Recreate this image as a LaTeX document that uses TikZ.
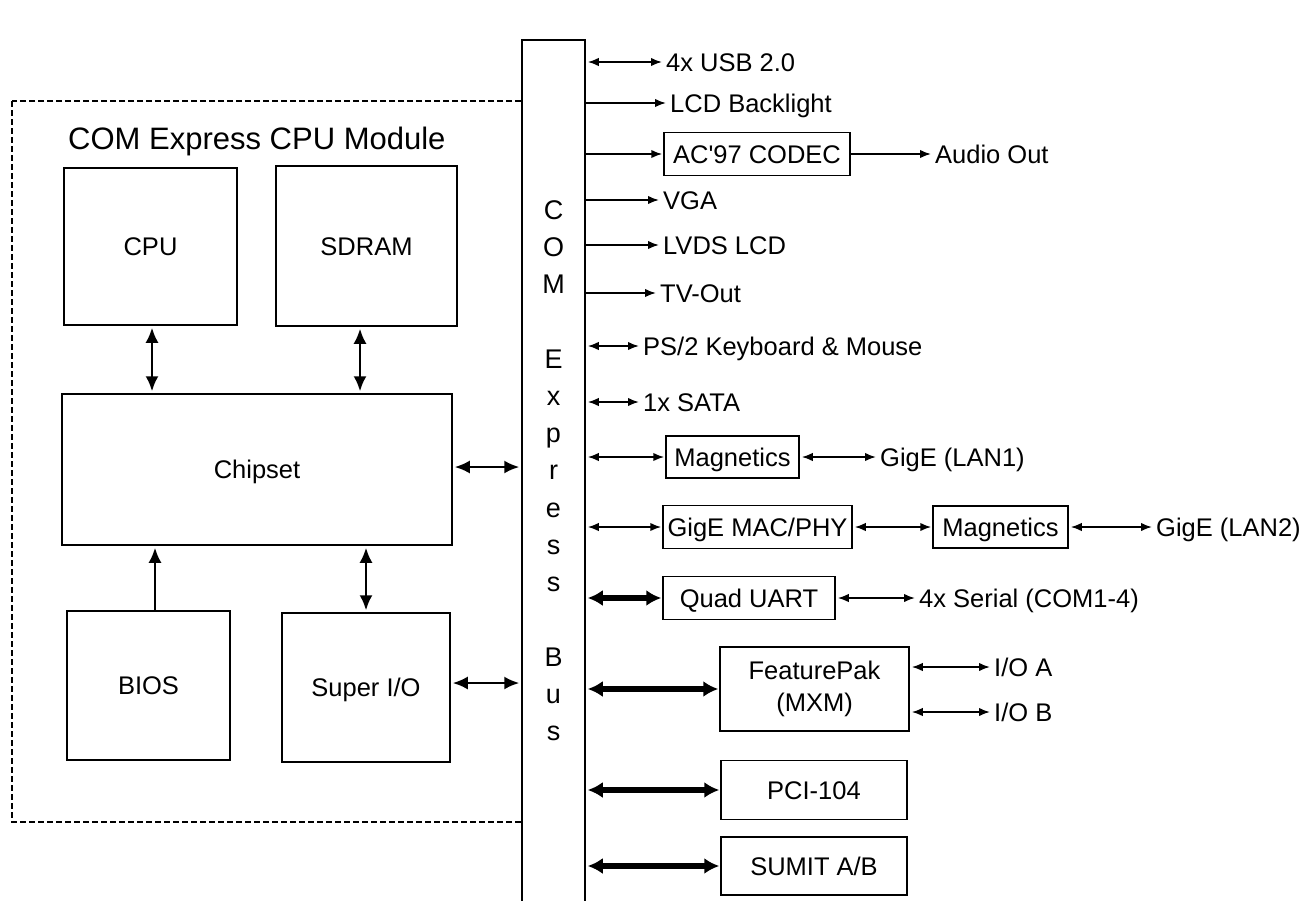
\documentclass[tikz,border=0pt]{standalone}
\usepackage{fontspec}
\setmainfont{Liberation Sans}
\usetikzlibrary{arrows.meta}
\newcommand\lblfont{\fontsize{25.5}{32}\selectfont}
\newcommand\ttlfont{\fontsize{31}{36}\selectfont}
\newcommand\busfont{\fontsize{27}{37.25}\selectfont}
\begin{document}
\begin{tikzpicture}[x=1pt,y=-1pt,
  lbl/.style={anchor=west, inner xsep=3pt, inner ysep=0pt, font=\lblfont, text height=18pt, text depth=0pt},
  blk/.style={draw, line width=1.5pt, inner sep=0pt, font=\lblfont, text height=18pt, text depth=0pt, fill=white},
  blk2/.style={draw, line width=1.5pt, inner sep=0pt, font=\lblfont, align=center, fill=white},
  biin/.style={line width=2.2pt, {Latex[length=15pt,width=13pt]}-{Latex[length=15pt,width=13pt]}, shorten <=2pt, shorten >=2pt},
  onein/.style={line width=2.2pt, -{Latex[length=15pt,width=13pt]}, shorten >=2pt},
  biarr/.style={line width=1.8pt, {Latex[length=11pt,width=8.5pt]}-{Latex[length=11pt,width=8.5pt]}, shorten <=2pt, shorten >=1pt},
  onearr/.style={line width=1.8pt, -{Latex[length=11pt,width=8.5pt]}, shorten >=1pt},
  busarr/.style={line width=5.5pt, {Latex[length=15pt,width=16pt]}-{Latex[length=15pt,width=16pt]}, shorten <=2pt, shorten >=1pt},
  modframe/.style={line width=1.3pt, dash pattern=on 6pt off 3pt}
]
\useasboundingbox (0,0) rectangle (1307,900);
\fill[white] (0,0) rectangle (1307,900);

% module frame
\draw[modframe] (12,101) rectangle (522,822);
\node[lbl, font=\ttlfont, text height=22pt, inner xsep=0pt] (title) at (68,138) {COM Express CPU Module};

% internal blocks
\node[blk, minimum width=173pt, minimum height=157pt] (cpu) at (150.5,246.5) {CPU};
\node[blk, minimum width=181pt, minimum height=160pt] (sdram) at (366.5,246) {SDRAM};
\node[blk, minimum width=390pt, minimum height=151pt] (chip) at (257,469.5) {Chipset};
\node[blk, minimum width=163pt, minimum height=149pt] (bios) at (148.5,685.5) {BIOS};
\node[blk, minimum width=168pt, minimum height=149pt] (sio) at (366,687.5) {Super I/O};

% bus
\node[draw, line width=1.5pt, fill=white, minimum width=63pt, minimum height=870pt, inner sep=0pt] (bus) at (553.5,475) {};
\node[font=\busfont, align=center, anchor=north, inner sep=0pt] (buslbl) at (553.5,200)
  {C\\O\\M\\\mbox{}\\E\\x\\p\\r\\e\\s\\s\\\mbox{}\\B\\u\\s};

% internal connectors
\draw[biin] ([xshift=1.5pt]cpu.south) -- ([xshift=1.5pt]cpu.south |- chip.north);
\draw[biin] ([xshift=-6.5pt]sdram.south) -- ([xshift=-6.5pt]sdram.south |- chip.north);
\draw[onein] ([xshift=6.5pt]bios.north) -- ([xshift=6.5pt]bios.north |- chip.south);
\draw[biin] (sio.north) -- (sio.north |- chip.south);
\draw[biin] ([yshift=2.5pt]chip.east) -- ([yshift=2.5pt]chip.east -| bus.west);
\draw[biin] ([yshift=4.5pt]sio.east) -- ([yshift=4.5pt]sio.east -| bus.west);

% right side labels and blocks
\node[lbl] (usb) at (663,62) {4x USB 2.0};
\node[lbl] (lcdbl) at (667,103) {LCD Backlight};
\node[blk, minimum width=186pt, minimum height=43pt] (ac97) at (757,154) {AC\textquotesingle 97 CODEC};
\node[lbl] (audio) at (932,154) {Audio Out};
\node[lbl] (vga) at (660,200) {VGA};
\node[lbl] (lvds) at (660,245) {LVDS LCD};
\node[lbl] (tv) at (657,293) {TV-Out};
\node[lbl] (ps2) at (640,346) {PS/2 Keyboard \& Mouse};
\node[lbl] (sata) at (640,402) {1x SATA};
\node[blk, minimum width=133pt, minimum height=42pt] (mag1) at (732.5,457) {Magnetics};
\node[lbl] (lan1) at (877,457) {GigE (LAN1)};
\node[blk, minimum width=189pt, minimum height=43pt] (mac) at (757.5,527) {GigE MAC/PHY};
\node[blk, minimum width=135pt, minimum height=42pt] (mag2) at (1000.5,527) {Magnetics};
\node[lbl] (lan2) at (1153,527) {GigE (LAN2)};
\node[blk, minimum width=172pt, minimum height=43pt] (uart) at (749,598) {Quad UART};
\node[lbl] (serial) at (916,598) {4x Serial (COM1-4)};
\node[blk2, minimum width=189pt, minimum height=84pt] (fp) at (814.5,689) {FeaturePak\\(MXM)};
\node[lbl] (ioa) at (991,667) {I/O A};
\node[lbl] (iob) at (991,712) {I/O B};
\node[blk, minimum width=186pt, minimum height=59pt] (pci) at (814,790) {PCI-104};
\node[blk, minimum width=186pt, minimum height=58pt] (sumit) at (814,866) {SUMIT A/B};

% right side connectors
\draw[biarr] (bus.east |- usb.west) -- (usb.west);
\draw[onearr] (bus.east |- lcdbl.west) -- (lcdbl.west);
\draw[onearr] (bus.east |- ac97.west) -- (ac97.west);
\draw[onearr] (ac97.east) -- (audio.west);
\draw[onearr] (bus.east |- vga.west) -- (vga.west);
\draw[onearr] (bus.east |- lvds.west) -- (lvds.west);
\draw[onearr] (bus.east |- tv.west) -- (tv.west);
\draw[biarr] (bus.east |- ps2.west) -- (ps2.west);
\draw[biarr] (bus.east |- sata.west) -- (sata.west);
\draw[biarr] (bus.east |- mag1.west) -- (mag1.west);
\draw[biarr] (mag1.east) -- (lan1.west);
\draw[biarr] (bus.east |- mac.west) -- (mac.west);
\draw[biarr] (mac.east) -- (mag2.west);
\draw[biarr] (mag2.east) -- (lan2.west);
\draw[busarr] (bus.east |- uart.west) -- (uart.west);
\draw[biarr] (uart.east) -- (serial.west);
\draw[busarr] (bus.east |- fp.west) -- (fp.west);
\draw[biarr] (fp.east |- ioa.west) -- (ioa.west);
\draw[biarr] (fp.east |- iob.west) -- (iob.west);
\draw[busarr] (bus.east |- pci.west) -- (pci.west);
\draw[busarr] (bus.east |- sumit.west) -- (sumit.west);
\end{tikzpicture}
\end{document}
